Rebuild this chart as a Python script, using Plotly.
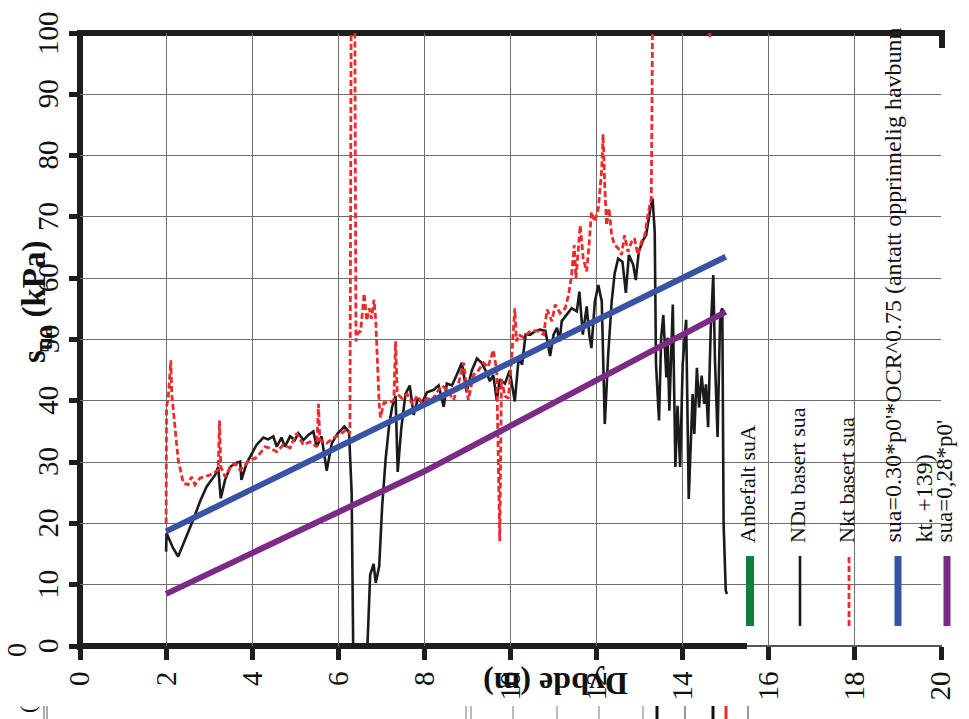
import plotly.graph_objects as go

# ---------------- data ----------------
ndu_depth = [2.00, 2.01, 2.08, 2.16, 2.28, 2.48, 2.63, 2.79, 2.94, 3.14, 3.21, 3.27, 3.37, 3.49, 3.60, 3.72,
             3.75, 3.87, 3.95, 4.10, 4.26, 4.37, 4.49, 4.57, 4.68, 4.76, 4.88, 4.99, 5.07, 5.19, 5.30, 5.42,
             5.50, 5.61, 5.73, 5.85, 5.98, 6.14, 6.25, 6.31, 6.35, 6.66, 6.74, 6.82, 6.87, 6.95, 7.02, 7.10,
             7.18, 7.25, 7.33, 7.38, 7.46, 7.56, 7.66, 7.75, 7.85, 7.95, 8.06, 8.22, 8.33, 8.45, 8.52, 8.64,
             8.75, 8.87, 8.98, 9.10, 9.22, 9.33, 9.45, 9.52, 9.60, 9.68, 9.75, 9.87, 9.98, 10.10, 10.19, 10.27,
             10.35, 10.46, 10.58, 10.69, 10.81, 10.92, 11.00, 11.08, 11.14, 11.19, 11.31, 11.42, 11.54, 11.60,
             11.68, 11.77, 11.83, 11.88, 11.96, 12.04, 12.12, 12.19, 12.27, 12.35, 12.42, 12.50, 12.60, 12.68,
             12.75, 12.85, 12.91, 12.98, 13.08, 13.15, 13.25, 13.30, 13.35, 13.38, 13.45, 13.50, 13.55, 13.62,
             13.65, 13.69, 13.77, 13.83, 13.88, 13.94, 14.00, 14.08, 14.14, 14.23, 14.27, 14.33, 14.38, 14.44,
             14.50, 14.54, 14.59, 14.65, 14.71, 14.75, 14.81, 14.87, 14.92, 14.95, 15.00, 15.03]
ndu_sua = [15.4, 18.4, 17.3, 16.0, 14.6, 17.9, 20.6, 23.6, 26.0, 27.9, 29.2, 24.1, 27.1, 29.2, 29.8, 30.1,
           27.1, 29.8, 30.9, 32.8, 34.0, 33.7, 34.2, 32.5, 34.0, 32.5, 34.2, 33.6, 34.7, 33.6, 34.4, 35.0,
           32.5, 34.2, 28.6, 33.1, 34.6, 35.8, 34.9, 25.0, -3.0, -3.0, 11.6, 13.4, 10.3, 13.0, 22.9, 30.5,
           36.0, 39.0, 40.8, 28.4, 35.3, 41.1, 42.5, 37.7, 40.4, 39.7, 41.4, 41.8, 42.5, 39.0, 42.8, 42.5,
           44.2, 46.2, 41.4, 44.9, 46.9, 46.2, 44.5, 43.2, 44.2, 40.1, 43.5, 42.8, 44.9, 39.9, 47.0, 45.9,
           50.8, 50.8, 51.4, 51.6, 51.4, 47.3, 50.8, 51.9, 49.7, 53.0, 54.1, 55.1, 54.6, 57.8,
           50.8, 55.4, 50.8, 48.6, 56.2, 58.9, 56.2, 36.2, 47.6, 56.2, 60.8, 63.2, 62.7, 57.6,
           63.8, 62.2, 59.7, 64.3, 66.2, 67.0, 71.4, 73.0, 67.6, 46.0, 36.8, 50.3, 54.0, 43.8,
           50.3, 38.4, 55.7, 29.2, 39.2, 29.2, 46.0, 53.2, 24.0, 41.1, 34.6, 45.4, 38.9, 44.1,
           39.5, 42.7, 35.7, 51.4, 60.5, 46.5, 34.1, 54.1, 55.1, 20.0, 9.0, 8.5]

nkt_depth = [2.00, 2.01, 2.05, 2.11, 2.13, 2.21, 2.28, 2.40, 2.51, 2.59, 2.67, 2.79, 2.90, 3.02, 3.14, 3.21,
             3.24, 3.27, 3.37, 3.49, 3.60, 3.72, 3.83, 3.95, 4.07, 4.18, 4.30, 4.41, 4.57, 4.72, 4.88, 5.03,
             5.19, 5.34, 5.50, 5.54, 5.57, 5.73, 5.88, 6.04, 6.19, 6.27, 6.31, 6.37, 6.41, 6.45, 6.52, 6.60,
             6.66, 6.72, 6.77, 6.83, 6.87, 6.95, 6.98, 7.06, 7.18, 7.29, 7.33, 7.37, 7.48, 7.60, 7.72, 7.83,
             7.95, 8.06, 8.18, 8.29, 8.41, 8.52, 8.68, 8.79, 8.91, 9.02, 9.14, 9.25, 9.37, 9.48, 9.60, 9.68,
             9.75, 9.79, 9.87, 9.95, 10.02, 10.10, 10.14, 10.19, 10.31, 10.46, 10.62, 10.77, 10.85, 10.96,
             11.04, 11.15, 11.27, 11.35, 11.42, 11.48, 11.52, 11.62, 11.69, 11.77, 11.83, 11.88, 11.96, 12.04,
             12.12, 12.15, 12.19, 12.23, 12.29, 12.35, 12.42, 12.50, 12.58, 12.65, 12.73, 12.81, 12.88, 12.96,
             13.04, 13.12, 13.19, 13.27, 13.33, 14.60, 14.63, 14.66]
nkt_sua = [20.0, 39.0, 40.6, 46.6, 41.2, 34.7, 30.4, 26.6, 26.3, 27.6, 26.3, 27.4, 27.6, 27.9, 28.4, 28.7,
           36.8, 29.2, 27.6, 29.2, 29.8, 28.7, 29.5, 30.4, 30.6, 31.4, 32.5, 32.3, 31.7, 32.8, 32.3, 34.7,
           32.8, 33.3, 32.5, 39.5, 33.6, 33.1, 33.9, 34.5, 35.3, 34.6, 130.0, 130.0, 49.7, 51.0, 51.4, 57.5,
           53.1, 55.1, 53.4, 56.5, 53.1, 39.4, 37.3, 39.7, 39.7, 40.1, 49.7, 41.1, 40.4, 41.1, 39.4, 40.8,
           39.7, 40.4, 40.1, 41.4, 42.5, 41.8, 40.1, 42.8, 46.2, 40.1, 44.2, 44.9, 46.2, 45.5, 48.3, 44.9,
           17.1, 43.5, 40.8, 40.4, 46.2, 55.1, 49.7, 50.8, 50.3, 51.4, 51.4, 50.8, 54.9, 53.0,
           55.7, 54.3, 55.1, 57.3, 60.5, 65.4, 60.0, 68.6, 63.2, 61.1, 65.9, 70.8, 69.2, 71.4,
           77.8, 83.5, 75.1, 68.6, 71.4, 67.0, 65.4, 64.9, 63.8, 67.0, 64.3, 65.9, 66.5, 63.8,
           65.9, 67.0, 70.3, 73.0, 130.0, 130.0, 99.3, 130.0]

ocr_depth = [2.0, 15.0]
ocr_sua = [18.7, 63.5]

p0_depth = [2.0, 8.0, 15.0]
p0_sua = [8.5, 28.5, 54.5]

x_ticks = [0, 2, 4, 6, 8, 10, 12, 14, 16, 18, 20]
y_ticks = [0, 10, 20, 30, 40, 50, 60, 70, 80, 90, 100]

legend_names = ["Anbefalt suA", "NDu basert sua", "Nkt basert sua",
                "sua=0.30*p0'*OCR^0.75 (antatt opprinnelig havbunn<br>kt. +139)", "sua=0,28*p0'"]

# ---------------- styling ----------------
SERIF = "Liberation Serif"
C_GREEN = "#0b8043"
C_BLACK = "#1b1b1b"
C_RED = "#ee2a2a"
C_BLUE = "#3953a4"
C_PURPLE = "#7b2a86"
TXT = "#111111"

# plot-area pixel geometry (969 x 719 canvas)
L, R, T, B = 80, 941, 33, 646
W, H = R - L, B - T


def px(xp):
    return (xp - L) / W


def py(yp):
    return (B - yp) / H


fig = go.Figure()
fig.add_trace(go.Scatter(x=ndu_depth, y=ndu_sua, mode="lines", name="NDu basert sua",
                         line=dict(color=C_BLACK, width=2.6), showlegend=False))
fig.add_trace(go.Scatter(x=nkt_depth, y=nkt_sua, mode="lines", name="Nkt basert sua",
                         line=dict(color=C_RED, width=2.8, dash="6px,3px"), showlegend=False))
fig.add_trace(go.Scatter(x=ocr_depth, y=ocr_sua, mode="lines", name="OCR",
                         line=dict(color=C_BLUE, width=6), showlegend=False))
fig.add_trace(go.Scatter(x=p0_depth, y=p0_sua, mode="lines", name="p0",
                         line=dict(color=C_PURPLE, width=6), showlegend=False))

shapes = []
# legend box (covers grid)
shapes.append(dict(type="rect", xref="paper", yref="paper", x0=px(738), x1=px(969), y0=py(645), y1=py(47.5),
                   fillcolor="white", line=dict(width=0), layer="between"))
# frame
blk = "#1e1e1e"
shapes += [
    dict(type="line", xref="paper", yref="paper", x0=0, x1=0, y0=py(650), y1=py(30), line=dict(color=blk, width=6), layer="between"),
    dict(type="line", xref="paper", yref="paper", x0=px(77), x1=px(944), y0=1, y1=1, line=dict(color=blk, width=6), layer="between"),
    dict(type="line", xref="paper", yref="paper", x0=px(942), x1=px(942), y0=py(30), y1=py(48), line=dict(color=blk, width=6), layer="between"),
    dict(type="line", xref="paper", yref="paper", x0=px(77), x1=px(747), y0=0, y1=0, line=dict(color=blk, width=6), layer="between"),
    dict(type="line", xref="paper", yref="paper", x0=px(747), x1=px(942), y0=0, y1=0, line=dict(color=blk, width=1.5), layer="between"),
]

# custom legend (rotated)
leg_x = [750, 800, 849, 898, 947]
leg_col = [C_GREEN, C_BLACK, C_RED, C_BLUE, C_PURPLE]
leg_w = [8, 2.6, 2.8, 7, 7]
leg_dash = ["solid", "solid", "6px,3px", "solid", "solid"]
leg_size = [22, 22, 22, 24, 23]
annotations = []
for xp, col, w, d, name, fs in zip(leg_x, leg_col, leg_w, leg_dash, legend_names, leg_size):
    shapes.append(dict(type="line", xref="paper", yref="paper", x0=px(xp), x1=px(xp), y0=py(626), y1=py(556),
                       line=dict(color=col, width=w, dash=d), layer="above"))
    multi = "<br>" in name
    annotations.append(dict(text=name, xref="paper", yref="paper",
                            x=px(xp + (10 if multi else -3)), y=py(545), xanchor="center", yanchor="bottom",
                            textangle=-90, showarrow=False, align="left",
                            font=dict(family=SERIF, size=fs, color=TXT)))

# y tick labels, rotated like the reference
for v in y_ticks:
    annotations.append(dict(text=str(v), xref="paper", yref="y", x=px(48), y=v, xanchor="center",
                            yanchor="middle", textangle=-90, showarrow=False,
                            font=dict(family=SERIF, size=29, color=TXT)))

# axis titles
annotations.append(dict(text="<b>Dybde (m)</b>", xref="paper", yref="paper", x=px(556), y=py(684),
                        xanchor="center", yanchor="middle", textangle=180, showarrow=False,
                        font=dict(family=SERIF, size=32, color=TXT)))
annotations.append(dict(text="<b>s<sub>ua</sub> (kPa)</b>", xref="paper", yref="paper", x=px(36), y=py(302),
                        xanchor="center", yanchor="middle", textangle=-90, showarrow=False,
                        font=dict(family=SERIF, size=33, color=TXT)))
# stray fragments along the lower edge of the original image
annotations.append(dict(text="0", xref="paper", yref="paper", x=px(16), y=py(650), xanchor="center",
                        yanchor="middle", textangle=-90, showarrow=False, font=dict(family=SERIF, size=28, color=TXT)))
annotations.append(dict(text="(", xref="paper", yref="paper", x=px(27), y=py(710), xanchor="center",
                        yanchor="middle", textangle=-90, showarrow=False, font=dict(family=SERIF, size=22, color=TXT)))
for xp, col, w in [(44, "#555", 1), (47, "#555", 1), (466, "#777", 1), (471, "#777", 1), (513, "#777", 1),
                   (557, "#777", 1), (599, "#777", 1), (643, "#777", 1), (657, "#111", 3), (685, "#999", 2),
                   (713, "#111", 3), (726, C_RED, 3), (748, "#999", 2)]:
    shapes.append(dict(type="line", xref="paper", yref="paper", x0=px(xp), x1=px(xp), y0=py(706), y1=py(719),
                       line=dict(color=col, width=w)))

fig.update_layout(
    width=969, height=719,
    margin=dict(l=L, r=969 - R, t=T, b=719 - B),
    paper_bgcolor="white", plot_bgcolor="white",
    font=dict(family=SERIF, size=24, color=TXT),
    shapes=shapes, annotations=annotations,
    showlegend=False,
)
fig.update_xaxes(range=[0, 20], tickvals=x_ticks, ticktext=[str(v) for v in x_ticks], tickangle=-90,
                 showgrid=True, gridcolor="#6e6e6e", gridwidth=1.3, zeroline=False, showline=False,
                 ticks="outside", ticklen=13, tickwidth=5, tickcolor=blk,
                 tickfont=dict(family=SERIF, size=29, color=TXT))
fig.update_yaxes(range=[0, 100], tickvals=y_ticks, showticklabels=False,
                 showgrid=True, gridcolor="#6e6e6e", gridwidth=1.3, zeroline=False, showline=False,
                 ticks="outside", ticklen=10, tickwidth=5, tickcolor=blk)

fig.write_html("out.html")
